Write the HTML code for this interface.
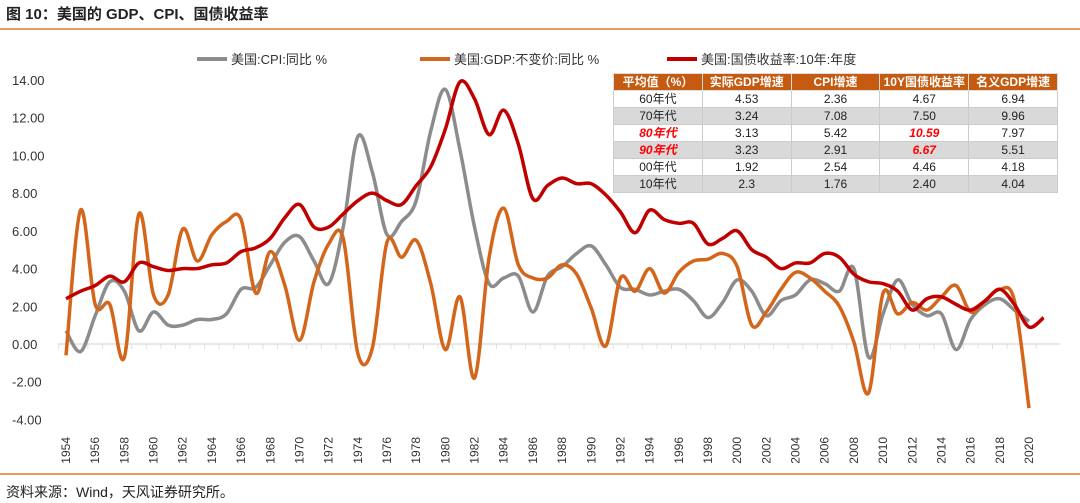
<!DOCTYPE html>
<html><head><meta charset="utf-8">
<style>
body{margin:0;background:#fff;font-family:"Liberation Sans","Noto Sans CJK SC",sans-serif;}
#wrap{position:relative;width:1080px;height:503px;overflow:hidden;}
svg text{font-family:"Liberation Sans","Noto Sans CJK SC",sans-serif;}
td{line-height:15px;}
</style></head>
<body>
<div id="wrap">
<svg id="svg" width="1080" height="503">
  <text x="6" y="19" font-size="15" font-weight="bold" fill="#222">图 10：美国的 GDP、CPI、国债收益率</text>
  <line x1="0" y1="29" x2="1080" y2="29" stroke="#E07B2A" stroke-width="1.5"/>
  <line x1="0" y1="474" x2="1080" y2="474" stroke="#E07B2A" stroke-width="1.5"/>
  <text x="6" y="497" font-size="14" fill="#222">资料来源：Wind，天风证券研究所。</text>
  <g id="legend">
    <line x1="197" y1="59" x2="227" y2="59" stroke="#8C8C8C" stroke-width="4"/>
    <text x="231" y="64" font-size="13" fill="#333">美国:CPI:同比 %</text>
    <line x1="420" y1="59" x2="450" y2="59" stroke="#D4661B" stroke-width="4"/>
    <text x="454" y="64" font-size="13" fill="#333">美国:GDP:不变价:同比 %</text>
    <line x1="667" y1="59" x2="697" y2="59" stroke="#C00000" stroke-width="4"/>
    <text x="701" y="64" font-size="13" fill="#333">美国:国债收益率:10年:年度</text>
  </g>
  <g id="axes"></g>
  <g id="series"></g>
</svg>
<div id="tbl" style="position:absolute;left:613px;top:73px;width:445px;font-size:12px;"></div>
</div>
<script>
const years=[];for(let y=1954;y<=2021;y++)years.push(y);
const cpi=[0.7,-0.4,1.5,3.3,2.8,0.7,1.7,1.0,1.0,1.3,1.3,1.6,2.9,3.0,4.2,5.4,5.7,4.4,3.2,6.2,11.0,9.1,5.8,6.5,7.6,11.3,13.5,10.3,6.2,3.2,3.5,3.6,1.7,3.6,4.1,4.8,5.2,4.2,3.0,2.9,2.6,2.8,2.9,2.3,1.4,2.2,3.4,2.8,1.5,2.3,2.6,3.4,3.2,2.8,4.0,-0.7,1.6,3.4,2.1,1.5,1.6,-0.3,1.3,2.1,2.4,1.8,1.2];
const gdp=[-0.6,7.1,2.1,2.1,-0.7,6.9,2.6,2.6,6.1,4.4,5.8,6.5,6.6,2.7,4.9,3.1,0.2,3.3,5.3,5.6,-0.5,-0.2,5.4,4.6,5.5,3.2,-0.3,2.5,-1.8,4.6,7.2,4.2,3.5,3.5,4.2,3.7,1.9,-0.1,3.5,2.8,4.0,2.7,3.8,4.4,4.5,4.8,4.1,1.0,1.7,2.9,3.8,3.5,2.8,2.0,0.1,-2.6,2.7,1.6,2.2,1.8,2.5,3.1,1.7,2.3,2.9,2.3,-3.4];
const yld=[2.4,2.8,3.1,3.6,3.3,4.3,4.1,3.9,4.0,4.0,4.2,4.3,4.9,5.1,5.6,6.7,7.4,6.2,6.2,6.9,7.6,8.0,7.6,7.4,8.4,9.4,11.4,13.9,13.0,11.1,12.4,10.6,7.7,8.4,8.8,8.5,8.5,7.9,7.0,5.9,7.1,6.6,6.4,6.4,5.3,5.6,6.0,5.0,4.6,4.0,4.3,4.3,4.8,4.6,3.7,3.3,3.2,2.8,1.8,2.4,2.5,2.1,1.8,2.3,2.9,2.1,0.9,1.4];
const yTicks=[14,12,10,8,6,4,2,0,-2,-4];
const tblHead=["平均值（%）","实际GDP增速","CPI增速","10Y国债收益率","名义GDP增速"];
const tblRows=[["60年代","4.53","2.36","4.67","6.94"],["70年代","3.24","7.08","7.50","9.96"],["80年代","3.13","5.42","10.59","7.97"],["90年代","3.23","2.91","6.67","5.51"],["00年代","1.92","2.54","4.46","4.18"],["10年代","2.3","1.76","2.40","4.04"]];
const NS="http://www.w3.org/2000/svg";
const X=y=>66+(y-1954)*(1029-66)/66;
const Y=v=>344-v*(344-80)/14;
const axes=document.getElementById('axes');
function mk(tag,attrs,parent){const e=document.createElementNS(NS,tag);for(const k in attrs)e.setAttribute(k,attrs[k]);parent.appendChild(e);return e;}
yTicks.forEach(t=>{const tx=mk('text',{x:12,y:Y(t)+5,'font-size':13,fill:'#333'},axes);tx.textContent=t.toFixed(2);

});
const ax=mk('line',{x1:58,x2:1060,y1:Y(0),y2:Y(0),stroke:'#e0e0e0','stroke-width':1.5},axes);


years.forEach(y=>{
 const tk=mk('line',{x1:X(y)-7.3,x2:X(y)-7.3,y1:Y(0),y2:Y(0)+5,stroke:'#e0e0e0'},axes);
 
 
 if(y%2===0&&y<=2020){const tx=mk('text',{x:0,y:0,'font-size':12,fill:'#333','text-anchor':'end',transform:`translate(${X(y)+4},437) rotate(-90)`},axes);tx.textContent=y;
 
 }
});
function path(vals){const p=vals.map((v,i)=>[X(years[i]),Y(v)]);let d=`M${p[0][0]},${p[0][1]}`;
for(let i=0;i<p.length-1;i++){const p0=p[i-1]||p[i],p1=p[i],p2=p[i+1],p3=p[i+2]||p2;const s=6;
d+=` C${p1[0]+(p2[0]-p0[0])/s},${p1[1]+(p2[1]-p0[1])/s} ${p2[0]-(p3[0]-p1[0])/s},${p2[1]-(p3[1]-p1[1])/s} ${p2[0]},${p2[1]}`;}return d;}
const g=document.getElementById('series');
[[cpi,'#8C8C8C','cpi-line'],[gdp,'#D4661B','gdp-line'],[yld,'#C00000','yield-line']].forEach(([v,c,n])=>{
 const e=mk('path',{d:path(v),fill:'none',stroke:c,'stroke-width':3.5,'stroke-linejoin':'round'},g);
 
 
});
const tbl=document.getElementById('tbl');
let h='<table style="border-collapse:collapse;width:445px;table-layout:fixed">';
h+='<tr style="background:#C55A11;color:#fff;font-weight:bold;height:17px">'+tblHead.map(t=>`<td style="text-align:center;border:1px solid #ddd;padding:0">${t}</td>`).join('')+'</tr>';
tblRows.forEach((r,i)=>{h+=`<tr style="background:${i%2?'#d9d9d9':'#fff'};height:17px;color:#222">`+r.map((t,j)=>{const red=(i===2||i===3)&&(j===0||j===3);return `<td style="text-align:center;border:1px solid #ccc;padding:0;${red?'color:#f00;font-style:italic;font-weight:bold':''}">${t}</td>`}).join('')+'</tr>';});
tbl.innerHTML=h+'</table>';
</script>
</body></html>
